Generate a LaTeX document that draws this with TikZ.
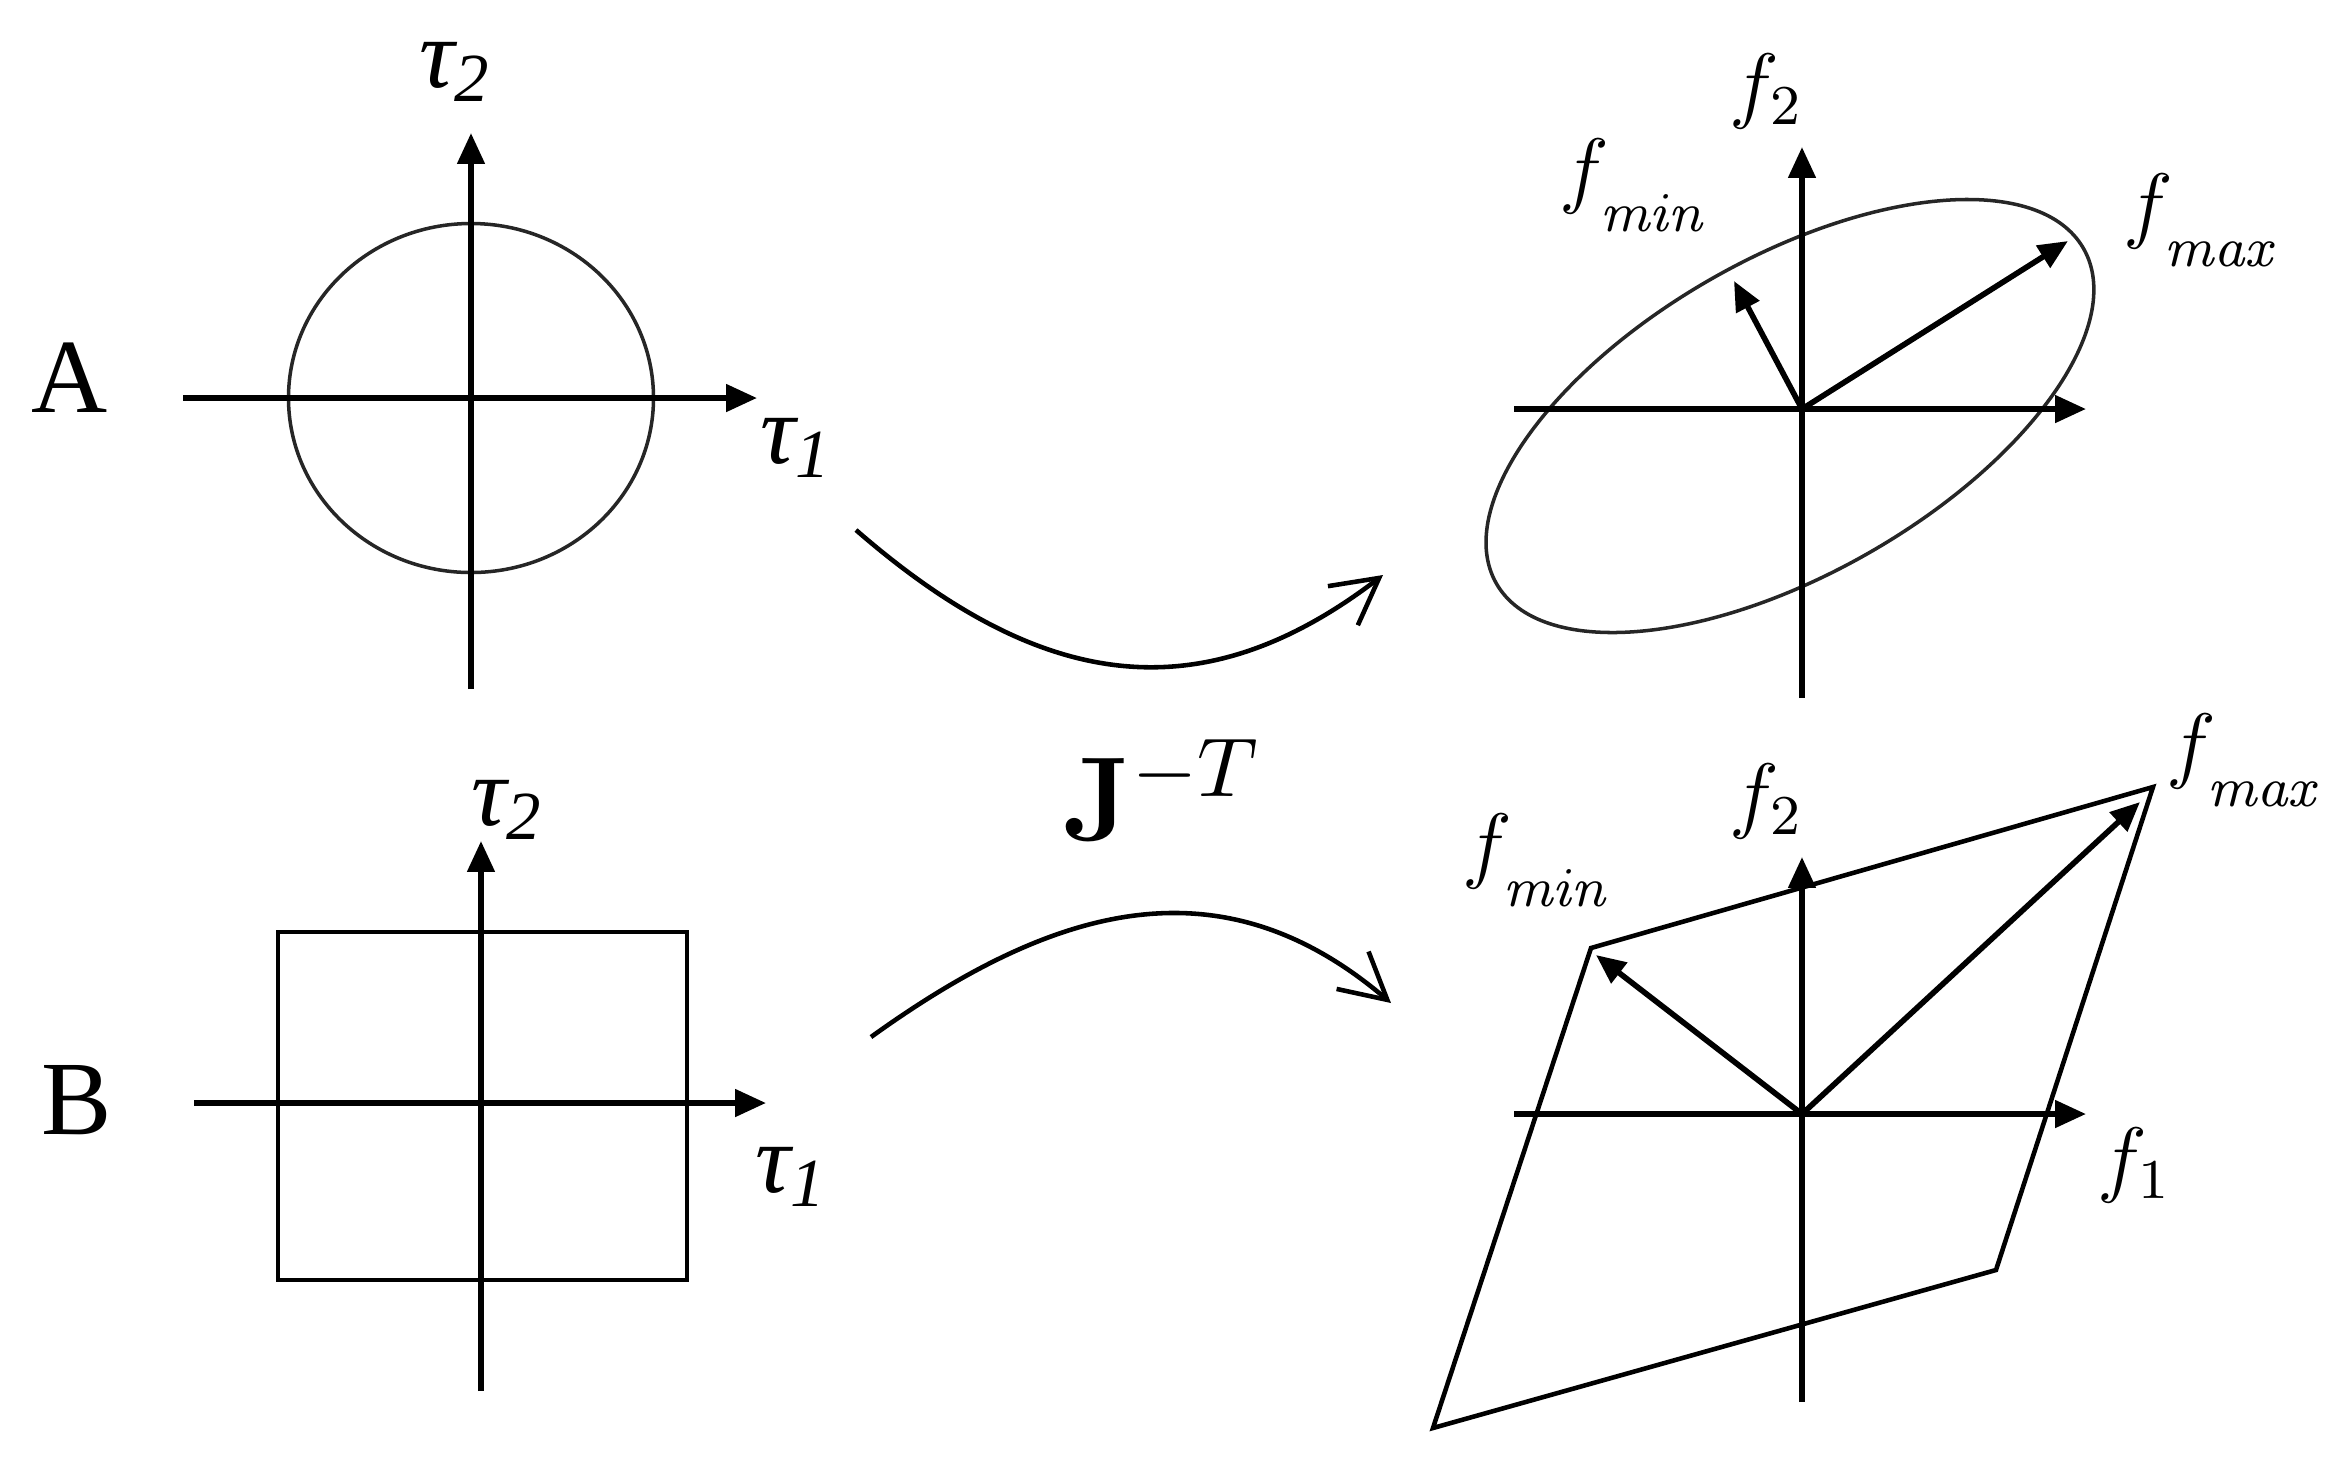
\RequirePackage{fix-cm}
\documentclass[tikz,border=0pt]{standalone}
\usepackage{amsmath}
\usepackage[no-math]{fontspec}
\setmainfont{Liberation Serif}
\usetikzlibrary{arrows.meta,calc}
\tikzset{
    axis/.style={line width=0.8pt, -{Triangle[length=4.4pt,width=3.8pt]}},
    outline/.style={line width=0.5pt, draw=black!85},
    region/.style={line width=0.65pt},
    vec/.style={line width=0.8pt, -{Triangle[length=4.2pt,width=3.6pt]}},
    mapping/.style={line width=0.65pt, -{Straight Barb[length=6.5pt,width=7pt]}},
    rowlabel/.style={font=\fontsize{15}{18}\selectfont},
    taulabel/.style={font=\fontsize{14}{17}\selectfont\itshape},
    flabel/.style={font=\fontsize{12}{14}\selectfont},
    jlabel/.style={font=\fontsize{17}{20}\selectfont},
}
\newcommand{\fsub}[1]{$f_{\raisebox{-3pt}{$\scriptstyle\mathit{#1}$}}$}

\begin{document}
\begin{tikzpicture}[x=0.05mm,y=-0.05mm]
    \useasboundingbox (0,0) rectangle (2344,1464);

    % Row A: joint torques (circle)
    \coordinate (oA) at (471,398);
    \coordinate (tAx0) at (183,398);
    \coordinate (tAx1) at (757,398);
    \coordinate (tAy0) at (471,689);
    \coordinate (tAy1) at (471,133);
    \draw[outline] (oA) ellipse [x radius=9.125mm, y radius=8.725mm];
    \draw[axis] (tAx0) -- (tAx1);
    \draw[axis] (tAy0) -- (tAy1);
    \node[rowlabel] (rowA) at (70,378) {A};
    \node[taulabel] (tauA2) at (456,72) {τ\textsubscript{2}};
    \node[taulabel] (tauA1) at (797,448) {τ\textsubscript{1}};

    % Row A: end-effector forces (ellipse)
    \coordinate (fA) at (1802,409);
    \coordinate (fAx0) at (1514,409);
    \coordinate (fAx1) at (2086,409);
    \coordinate (fAy0) at (1802,698);
    \coordinate (fAy1) at (1802,147);
    \coordinate (eA) at (1790,416);
    \coordinate (fAmax) at (2068,241);
    \coordinate (fAmin) at (1734,281);
    \draw[outline, rotate around={29.7:(eA)}] (eA) ellipse [x radius=16.9mm, y radius=7.9mm];
    \draw[axis] (fAx0) -- (fAx1);
    \draw[axis] (fAy0) -- (fAy1);
    \draw[vec] (fA) -- (fAmax);
    \draw[vec] (fA) -- (fAmin);
    \node[flabel] (fA2) at (1767,91) {$f_2$};
    \node[flabel] (fAminl) at (1635,185) {\fsub{min}};
    \node[flabel] (fAmaxl) at (2203,220) {\fsub{max}};

    % Row B: joint torques (box)
    \coordinate (oB) at (481,1103);
    \coordinate (tBx0) at (194,1103);
    \coordinate (tBx1) at (766,1103);
    \coordinate (tBy0) at (481,1391);
    \coordinate (tBy1) at (481,841);
    \coordinate (boxsw) at (278,1280);
    \coordinate (boxne) at (687,932);
    \draw[region] (boxsw) rectangle (boxne);
    \draw[axis] (tBx0) -- (tBx1);
    \draw[axis] (tBy0) -- (tBy1);
    \node[rowlabel] (rowB) at (77,1100) {B};
    \node[taulabel] (tauB2) at (508,810) {τ\textsubscript{2}};
    \node[taulabel] (tauB1) at (792,1177) {τ\textsubscript{1}};

    % Row B: end-effector forces (parallelogram)
    \coordinate (fB) at (1802,1114);
    \coordinate (fBx0) at (1514,1114);
    \coordinate (fBx1) at (2086,1114);
    \coordinate (fBy0) at (1802,1402);
    \coordinate (fBy1) at (1802,857);
    \coordinate (pnw) at (1591,948);
    \coordinate (pne) at (2153,787);
    \coordinate (pse) at (1996,1270);
    \coordinate (psw) at (1433,1428);
    \coordinate (fBmax) at (2140,802);
    \coordinate (fBmin) at (1596,955);
    \draw[region] (pnw) -- (pne) -- (pse) -- (psw) -- cycle;
    \draw[axis] (fBx0) -- (fBx1);
    \draw[axis] (fBy0) -- (fBy1);
    \draw[vec] (fB) -- (fBmax);
    \draw[vec] (fB) -- (fBmin);
    \node[flabel] (fB2) at (1767,801) {$f_2$};
    \node[flabel] (fB1) at (2135,1165) {$f_1$};
    \node[flabel] (fBminl) at (1538,860) {\fsub{min}};
    \node[flabel] (fBmaxl) at (2246,760) {\fsub{max}};

    % Mapping arrows
    \coordinate (mapAs) at (856,530);
    \coordinate (mapAe) at (1383,575);
    \coordinate (mapBs) at (871,1037);
    \coordinate (mapBe) at (1391,1003);
    \draw[mapping] (mapAs) .. controls (1040,690) and (1200,715) .. (mapAe);
    \draw[mapping] (mapBs) .. controls (1053,906) and (1220,857) .. (mapBe);
    \node[jlabel] (jac) at (1162,790) {$\mathbf{J}^{-T}$};
\end{tikzpicture}
\end{document}
